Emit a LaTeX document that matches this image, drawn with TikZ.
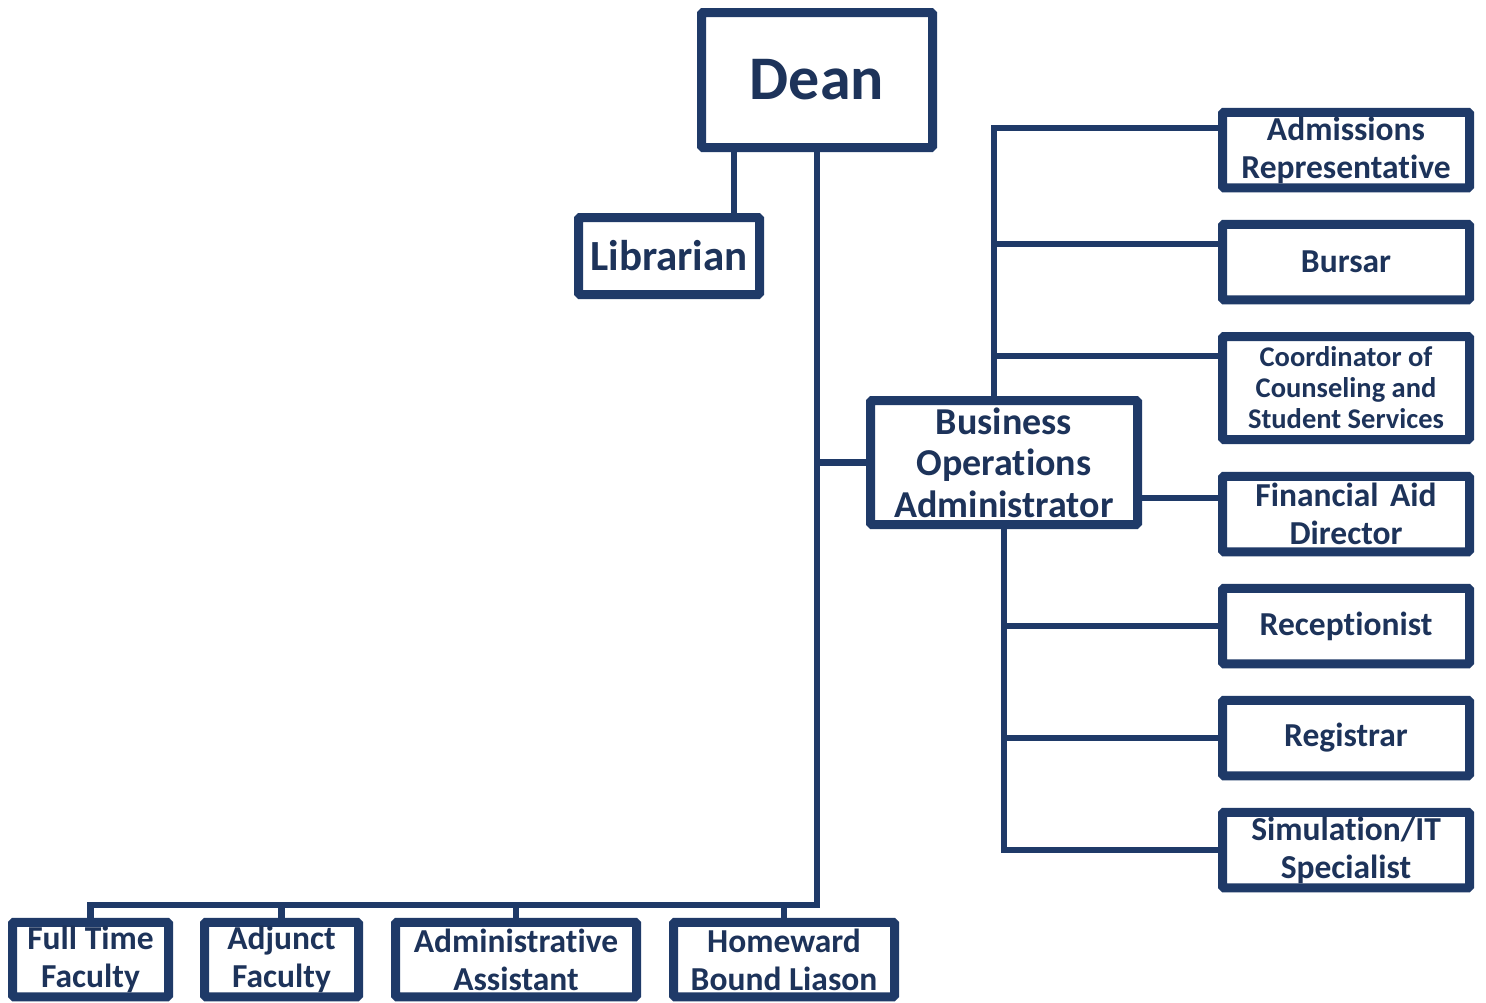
\documentclass[tikz,border=0pt]{standalone}
\usepackage{fontspec}
\setmainfont{Carlito}[Ligatures={NoCommon,NoContextual}]
\usetikzlibrary{shadows}
\definecolor{navy}{RGB}{31,58,104}
\definecolor{navytext}{RGB}{29,51,90}
\begin{document}
\begin{tikzpicture}[x=1pt,y=-1pt,
  box/.style={draw=navy, line width=9pt, fill=white, rounded corners=1.5pt, inner sep=0pt,
    align=center, text=navytext, font=\bfseries\fontsize{33.5}{38}\selectfont,
    drop shadow={shadow xshift=2pt,shadow yshift=-3pt,opacity=0.22}},
  rbox/.style={box, minimum width=247pt, minimum height=75.5pt},
  bbox/.style={box, minimum height=74.5pt},
  link/.style={draw=navy, line width=6.8pt},
]
\fill[white] (0,0) rectangle (1486,1002);
\useasboundingbox (0,0) rectangle (1486,1002);

% top
\node[box, minimum width=231pt, minimum height=135pt, font=\bfseries\fontsize{62}{70}\selectfont] (dean) at (817,80) {Dean};
\node[box, minimum width=181pt, minimum height=77pt, font=\bfseries\fontsize{43}{48}\selectfont] (lib) at (669,256) {Librarian};
\node[box, minimum width=267pt, minimum height=124pt, font=\bfseries\fontsize{38}{41.5}\selectfont] (boa) at (1004,462.5) {Business\\Operations\\Administrator};

% right column
\node[rbox] (adm) at (1346,150) {Admissions\\Representative};
\node[rbox] (bur) at (1346,262) {Bursar};
\node[rbox, minimum height=103pt, font=\bfseries\fontsize{28.5}{31}\selectfont] (coo) at (1346,388) {Coordinator of\\Counseling and\\Student Services};
\node[rbox] (fin) at (1346,514) {Financial\hspace{0.12em} Aid\\Director};
\node[rbox] (rec) at (1346,626) {Receptionist};
\node[rbox] (reg) at (1346,738) {Registrar};
\node[rbox] (sim) at (1346,850) {Simulation/IT\\Specialist};

% bottom row
\node[bbox, minimum width=156pt] (ftf) at (90.5,959.5) {Full Time\\Faculty};
\node[bbox, minimum width=154pt] (adj) at (281.5,959.5) {Adjunct\\Faculty};
\node[bbox, minimum width=241pt] (aa) at (516,959.5) {Administrative\\Assistant};
\node[bbox, minimum width=221pt] (hbl) at (784,959.5) {Homeward\\Bound Liason};

% connectors
\coordinate (busR) at (817,905);
\coordinate (busL) at (90.5,905);
\draw[link] (dean.south) -- (busR) -- (busL) -- (ftf.north);
\draw[link] (adj.north) -- (adj.north |- busR);
\draw[link] (aa.north) -- (aa.north |- busR);
\draw[link] (hbl.north) -- (hbl.north |- busR);
\draw[link] ([xshift=-83pt]dean.south) -- ([xshift=65pt]lib.north);
\draw[link] (boa.west) -- (boa.west -| dean.south);

\coordinate (admT) at ([yshift=22pt]adm.west);
\coordinate (burT) at ([yshift=18pt]bur.west);
\coordinate (cooT) at ([yshift=32pt]coo.west);
\coordinate (finT) at ([yshift=16pt]fin.west);
\coordinate (boaN) at ([xshift=-10pt]boa.north);
\draw[link] (boaN) |- (admT);
\draw[link] (burT) -- (burT -| boaN);
\draw[link] (cooT) -- (cooT -| boaN);
\draw[link] (finT) -- (finT -| boa.east);
\draw[link] (boa.south) |- (sim.west);
\draw[link] (rec.west) -- (rec.west -| boa.south);
\draw[link] (reg.west) -- (reg.west -| boa.south);
\end{tikzpicture}
\end{document}
